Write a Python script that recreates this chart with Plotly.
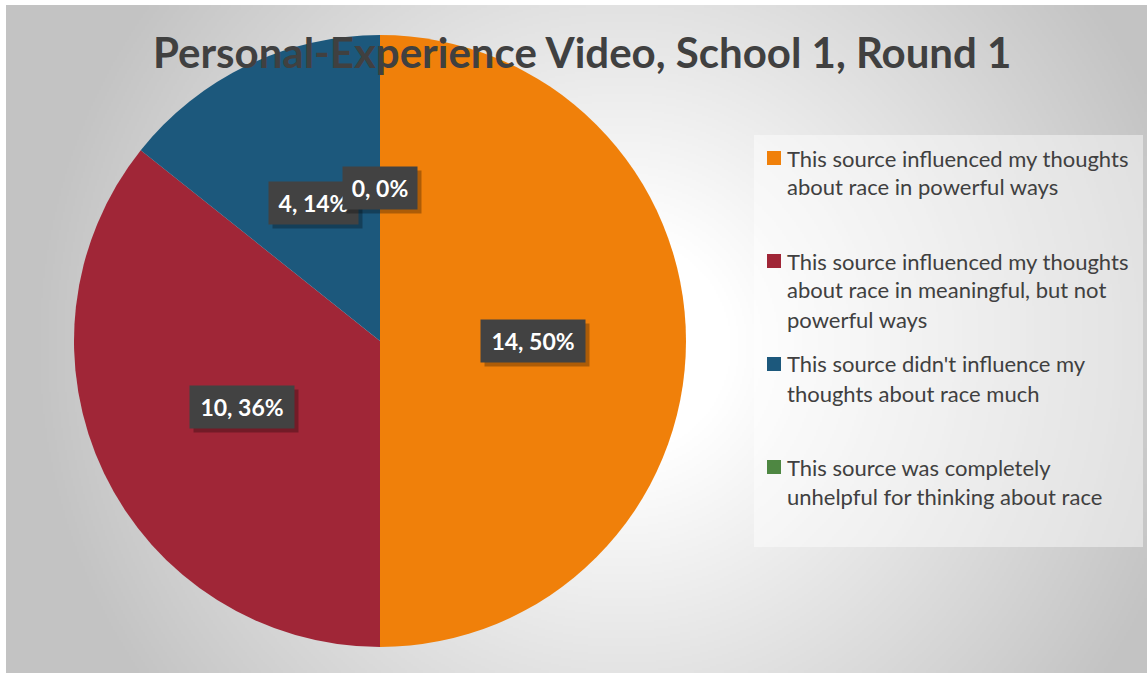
import base64
import math
import struct
import textwrap
import zlib

import numpy as np
import plotly.graph_objects as go

# ---- data ----
categories = [
    "This source influenced my thoughts about race in powerful ways",
    "This source influenced my thoughts about race in meaningful, but not powerful ways",
    "This source didn't influence my thoughts about race much",
    "This source was completely unhelpful for thinking about race",
]
counts = [14, 10, 4, 0]
colors = ["#F0800A", "#A02637", "#1C587C", "#4E8742"]
title_text = "Personal-Experience Video, School 1, Round 1"

W, H = 1147, 675
FONT = "Lato"
TEXT_GREY = "#404040"

# chart-area frame (pixels)
AX0, AY0, AX1, AY1 = 6, 5, 1147, 673

# pie geometry (pixels)
CX, CY, R = 380, 341, 306


def gray_png_uri(arr):
    """Encode a 2-D uint8 array as a grayscale PNG data URI."""
    h, w = arr.shape
    raw = b"".join(b"\x00" + arr[i].tobytes() for i in range(h))

    def chunk(tag, data):
        c = struct.pack(">I", len(data)) + tag + data
        return c + struct.pack(">I", zlib.crc32(tag + data) & 0xFFFFFFFF)

    png = b"\x89PNG\r\n\x1a\n"
    png += chunk(b"IHDR", struct.pack(">IIBBBBB", w, h, 8, 0, 0, 0, 0))
    png += chunk(b"IDAT", zlib.compress(raw, 9))
    png += chunk(b"IEND", b"")
    return "data:image/png;base64," + base64.b64encode(png).decode()


# radial grey-to-white backdrop for the chart area
scale = 2
gw, gh = (AX1 - AX0) // scale, (AY1 - AY0) // scale
yy, xx = np.mgrid[0:gh, 0:gw]
px = AX0 + xx * scale
py = AY0 + yy * scale
dist = np.hypot(px - 620, py - 345)
t = np.clip((dist - 110) / 480, 0, 1)
shade = (255 - 60 * t).astype(np.uint8)
backdrop = gray_png_uri(shade)


def to_paper(x, y):
    return x / W, 1 - y / H


fig = go.Figure()

fig.add_trace(
    go.Pie(
        labels=categories,
        values=counts,
        sort=False,
        direction="clockwise",
        rotation=0,
        marker=dict(colors=colors, line=dict(width=0)),
        textinfo="none",
        hoverinfo="label+value+percent",
        showlegend=False,
        domain=dict(
            x=[(CX - R) / W, (CX + R) / W],
            y=[1 - (CY + R) / H, 1 - (CY - R) / H],
        ),
    )
)

annotations = []
shapes = []

# title
tx, ty = to_paper(582, 52)
annotations.append(
    dict(
        x=tx, y=ty, xref="paper", yref="paper", xanchor="center", yanchor="middle",
        text="<b>" + title_text + "</b>", showarrow=False,
        font=dict(family=FONT, size=42, color=TEXT_GREY),
    )
)

# data labels: "count, percent" placed half-way out along each slice's mid-angle
total = sum(counts)
cum = 0
for v in counts:
    mid = (cum + v / 2) / total * 2 * math.pi
    cum += v
    lx = CX + 0.5 * R * math.sin(mid)
    ly = CY - 0.5 * R * math.cos(mid)
    plain = f"{v}, {round(v / total * 100)}%"
    box_w = 15 * len(plain) - 1
    box_h = 42
    # drop shadow
    sx, sy = to_paper(lx + 4, ly + 4)
    annotations.append(
        dict(
            x=sx, y=sy, xref="paper", yref="paper", xanchor="center", yanchor="middle",
            text=" ", showarrow=False, bgcolor="rgba(0,0,0,0.28)", borderpad=0,
            width=box_w, height=box_h,
            font=dict(family=FONT, size=23, color="rgba(0,0,0,0)"),
        )
    )
    # label box
    px_, py_ = to_paper(lx, ly)
    annotations.append(
        dict(
            x=px_, y=py_, xref="paper", yref="paper", xanchor="center", yanchor="middle",
            text="<b>" + plain + "</b>", showarrow=False, bgcolor="#424242", borderpad=0,
            width=box_w, height=box_h,
            font=dict(family=FONT, size=23, color="white"),
        )
    )

# legend panel
lx0, ly0 = to_paper(754, 135)
lx1, ly1 = to_paper(1143, 547)
shapes.append(
    dict(
        type="rect", xref="paper", yref="paper", x0=lx0, x1=lx1, y0=ly1, y1=ly0,
        fillcolor="rgba(255,255,255,0.45)", line=dict(width=0), layer="below",
    )
)

ITEM_TOP, ITEM_STEP, LINE_STEP = 158, 103, 29
for i, (cat, col) in enumerate(zip(categories, colors)):
    y0 = ITEM_TOP + i * ITEM_STEP
    sx0, sy0 = to_paper(767, y0 - 7)
    sx1, sy1 = to_paper(781, y0 + 7)
    shapes.append(
        dict(
            type="rect", xref="paper", yref="paper", x0=sx0, x1=sx1, y0=sy1, y1=sy0,
            fillcolor=col, line=dict(width=0),
        )
    )
    for j, line in enumerate(textwrap.wrap(cat, 34)):
        ax_, ay_ = to_paper(785, y0 + j * LINE_STEP)
        annotations.append(
            dict(
                x=ax_, y=ay_, xref="paper", yref="paper", xanchor="left", yanchor="middle",
                text=line, showarrow=False,
                font=dict(family=FONT, size=22, color=TEXT_GREY),
            )
        )

fig.update_layout(
    width=W,
    height=H,
    margin=dict(l=0, r=0, t=0, b=0),
    paper_bgcolor="white",
    plot_bgcolor="rgba(0,0,0,0)",
    images=[
        dict(
            source=backdrop, xref="paper", yref="paper",
            x=AX0 / W, y=1 - AY0 / H, sizex=(AX1 - AX0) / W, sizey=(AY1 - AY0) / H,
            xanchor="left", yanchor="top", sizing="stretch", layer="below",
        )
    ],
    shapes=shapes,
    annotations=annotations,
)

fig.write_html("out.html")
